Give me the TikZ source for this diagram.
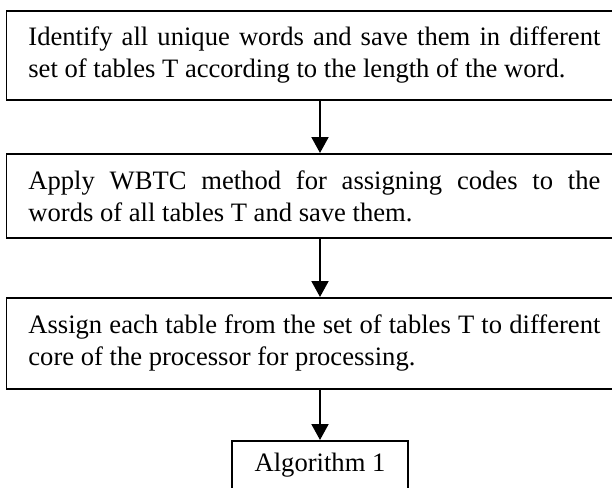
\documentclass[tikz,border=0pt]{standalone}
\usepackage{fontspec}
\setmainfont{Liberation Serif}
\usetikzlibrary{arrows.meta}

\tikzset{
  stepbox/.style={draw, line width=0.9pt, anchor=north west, text width=286pt,
    inner xsep=11pt, inner ysep=0pt, align=justify,
    font=\fontsize{13.3}{16}\selectfont},
  flow/.style={draw, line width=1pt, -{Triangle[width=8.5pt,length=8pt]}}
}

\begin{document}
\begin{tikzpicture}
        \useasboundingbox (0,0) rectangle (306pt,-244pt);
        \node[stepbox, minimum height=44.5pt](identify)at(2.75pt,-5pt)
            {Identify all unique words and save them in different\linebreak
             set of tables T according to the length of the word.};
        \node[stepbox, minimum height=42pt](wbtc)at(2.75pt,-76.5pt)
            {Apply WBTC method for assigning codes to the\linebreak
             words of all tables T and save them.};
        \node[stepbox, minimum height=45.5pt](assign)at(2.75pt,-148.5pt)
            {Assign each table from the set of tables T to different\linebreak
             core of the processor for processing.};
        \node[draw, line width=0.9pt, anchor=north, minimum width=88pt,
            minimum height=24.5pt, inner sep=0pt,
            font=\fontsize{13.3}{16}\selectfont](algo)at(160pt,-220pt){Algorithm 1};
        \draw[flow](identify.south -| algo.north)--(wbtc.north -| algo.north);
        \draw[flow](wbtc.south -| algo.north)--(assign.north -| algo.north);
        \draw[flow](assign.south -| algo.north)--(algo.north);
    \end{tikzpicture}
\end{document}
